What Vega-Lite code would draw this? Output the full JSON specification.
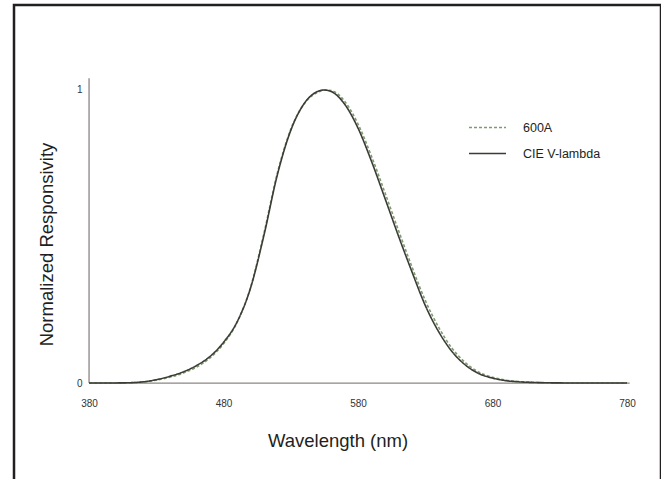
{
  "$schema": "https://vega.github.io/schema/vega-lite/v6.json",
  "width": 647,
  "height": 478,
  "autosize": {"type": "none"},
  "padding": {"left": 14, "top": 5, "right": 0, "bottom": 0},
  "background": "white",
  "datasets": {
    "curves": [
      {"wl": 380, "r": 0.00004, "series": "600A"},
      {"wl": 390, "r": 0.0001, "series": "600A"},
      {"wl": 400, "r": 0.0003, "series": "600A"},
      {"wl": 410, "r": 0.001, "series": "600A"},
      {"wl": 420, "r": 0.0035, "series": "600A"},
      {"wl": 430, "r": 0.010, "series": "600A"},
      {"wl": 440, "r": 0.020, "series": "600A"},
      {"wl": 450, "r": 0.034, "series": "600A"},
      {"wl": 460, "r": 0.055, "series": "600A"},
      {"wl": 470, "r": 0.086, "series": "600A"},
      {"wl": 480, "r": 0.134, "series": "600A"},
      {"wl": 490, "r": 0.206, "series": "600A"},
      {"wl": 500, "r": 0.325, "series": "600A"},
      {"wl": 510, "r": 0.510, "series": "600A"},
      {"wl": 520, "r": 0.716, "series": "600A"},
      {"wl": 530, "r": 0.866, "series": "600A"},
      {"wl": 540, "r": 0.953, "series": "600A"},
      {"wl": 550, "r": 0.992, "series": "600A"},
      {"wl": 555, "r": 0.999, "series": "600A"},
      {"wl": 560, "r": 0.998, "series": "600A"},
      {"wl": 570, "r": 0.962, "series": "600A"},
      {"wl": 580, "r": 0.884, "series": "600A"},
      {"wl": 590, "r": 0.774, "series": "600A"},
      {"wl": 600, "r": 0.650, "series": "600A"},
      {"wl": 610, "r": 0.522, "series": "600A"},
      {"wl": 620, "r": 0.398, "series": "600A"},
      {"wl": 630, "r": 0.282, "series": "600A"},
      {"wl": 640, "r": 0.190, "series": "600A"},
      {"wl": 650, "r": 0.118, "series": "600A"},
      {"wl": 660, "r": 0.069, "series": "600A"},
      {"wl": 670, "r": 0.037, "series": "600A"},
      {"wl": 680, "r": 0.020, "series": "600A"},
      {"wl": 690, "r": 0.010, "series": "600A"},
      {"wl": 700, "r": 0.005, "series": "600A"},
      {"wl": 710, "r": 0.0025, "series": "600A"},
      {"wl": 720, "r": 0.0012, "series": "600A"},
      {"wl": 730, "r": 0.0006, "series": "600A"},
      {"wl": 740, "r": 0.0003, "series": "600A"},
      {"wl": 750, "r": 0.00015, "series": "600A"},
      {"wl": 760, "r": 0.00007, "series": "600A"},
      {"wl": 770, "r": 0.00003, "series": "600A"},
      {"wl": 780, "r": 0.00002, "series": "600A"},
      {"wl": 380, "r": 0.00004, "series": "CIE V-lambda"},
      {"wl": 390, "r": 0.00012, "series": "CIE V-lambda"},
      {"wl": 400, "r": 0.0004, "series": "CIE V-lambda"},
      {"wl": 410, "r": 0.0012, "series": "CIE V-lambda"},
      {"wl": 420, "r": 0.004, "series": "CIE V-lambda"},
      {"wl": 430, "r": 0.0116, "series": "CIE V-lambda"},
      {"wl": 440, "r": 0.023, "series": "CIE V-lambda"},
      {"wl": 450, "r": 0.038, "series": "CIE V-lambda"},
      {"wl": 460, "r": 0.060, "series": "CIE V-lambda"},
      {"wl": 470, "r": 0.091, "series": "CIE V-lambda"},
      {"wl": 480, "r": 0.139, "series": "CIE V-lambda"},
      {"wl": 490, "r": 0.208, "series": "CIE V-lambda"},
      {"wl": 500, "r": 0.323, "series": "CIE V-lambda"},
      {"wl": 510, "r": 0.503, "series": "CIE V-lambda"},
      {"wl": 520, "r": 0.710, "series": "CIE V-lambda"},
      {"wl": 530, "r": 0.862, "series": "CIE V-lambda"},
      {"wl": 540, "r": 0.954, "series": "CIE V-lambda"},
      {"wl": 550, "r": 0.995, "series": "CIE V-lambda"},
      {"wl": 555, "r": 1.000, "series": "CIE V-lambda"},
      {"wl": 560, "r": 0.995, "series": "CIE V-lambda"},
      {"wl": 570, "r": 0.952, "series": "CIE V-lambda"},
      {"wl": 580, "r": 0.870, "series": "CIE V-lambda"},
      {"wl": 590, "r": 0.757, "series": "CIE V-lambda"},
      {"wl": 600, "r": 0.631, "series": "CIE V-lambda"},
      {"wl": 610, "r": 0.503, "series": "CIE V-lambda"},
      {"wl": 620, "r": 0.381, "series": "CIE V-lambda"},
      {"wl": 630, "r": 0.265, "series": "CIE V-lambda"},
      {"wl": 640, "r": 0.175, "series": "CIE V-lambda"},
      {"wl": 650, "r": 0.107, "series": "CIE V-lambda"},
      {"wl": 660, "r": 0.061, "series": "CIE V-lambda"},
      {"wl": 670, "r": 0.032, "series": "CIE V-lambda"},
      {"wl": 680, "r": 0.017, "series": "CIE V-lambda"},
      {"wl": 690, "r": 0.0082, "series": "CIE V-lambda"},
      {"wl": 700, "r": 0.0041, "series": "CIE V-lambda"},
      {"wl": 710, "r": 0.0021, "series": "CIE V-lambda"},
      {"wl": 720, "r": 0.00105, "series": "CIE V-lambda"},
      {"wl": 730, "r": 0.00052, "series": "CIE V-lambda"},
      {"wl": 740, "r": 0.00025, "series": "CIE V-lambda"},
      {"wl": 750, "r": 0.00012, "series": "CIE V-lambda"},
      {"wl": 760, "r": 0.00006, "series": "CIE V-lambda"},
      {"wl": 770, "r": 0.00003, "series": "CIE V-lambda"},
      {"wl": 780, "r": 0.000015, "series": "CIE V-lambda"}
    ]
  },
  "layer": [
    {
      "data": {"values": [{}]},
      "mark": {"type": "rule", "color": "#8c8585", "strokeWidth": 1.3},
      "encoding": {
        "x": {"datum": 380, "type": "quantitative"},
        "x2": {"datum": 782},
        "y": {"datum": 0, "type": "quantitative"}
      }
    },
    {
      "data": {"values": [{}]},
      "mark": {"type": "rule", "color": "#8c8585", "strokeWidth": 1.3},
      "encoding": {
        "x": {"datum": 380, "type": "quantitative"},
        "y": {"datum": 0, "type": "quantitative"},
        "y2": {"datum": 1.04}
      }
    },
    {
      "data": {"name": "curves"},
      "mark": {"type": "line", "interpolate": "monotone", "strokeWidth": 1.6},
      "encoding": {
        "x": {
          "field": "wl",
          "type": "quantitative",
          "scale": {"domain": [324.2, 805.3], "nice": false, "zero": false},
          "axis": {
            "values": [380, 480, 580, 680, 780],
            "format": "d",
            "domain": false,
            "ticks": false,
            "grid": false,
            "offset": -100,
            "labelPadding": 15,
            "labelFontSize": 10,
            "labelColor": "#333333",
            "labelFont": "Liberation Sans",
            "title": "Wavelength (nm)",
            "titleFont": "Liberation Sans",
            "titleFontSize": 18.5,
            "titleFontWeight": "normal",
            "titleColor": "#231f20",
            "titlePadding": 23
          }
        },
        "y": {
          "field": "r",
          "type": "quantitative",
          "scale": {"domain": [-0.341, 1.29], "nice": false, "zero": false},
          "axis": {
            "values": [0, 1],
            "format": "d",
            "domain": false,
            "ticks": false,
            "grid": false,
            "offset": -75,
            "labelPadding": 7,
            "labelFontSize": 10,
            "labelColor": "#333333",
            "labelFont": "Liberation Sans",
            "title": "Normalized Responsivity",
            "titleFont": "Liberation Sans",
            "titleFontSize": 18.5,
            "titleFontWeight": "normal",
            "titleColor": "#231f20",
            "titlePadding": 20
          }
        },
        "color": {
          "field": "series",
          "type": "nominal",
          "scale": {"domain": ["600A", "CIE V-lambda"], "range": ["#7f9a70", "#3a3c35"]},
          "legend": {
            "title": null,
            "orient": "none",
            "legendX": 454,
            "legendY": 103,
            "symbolType": "stroke",
            "symbolSize": 1369,
            "symbolStrokeWidth": 1.6,
            "labelFont": "Liberation Sans",
            "labelFontSize": 12.5,
            "labelColor": "#231f20",
            "labelOffset": 16,
            "rowPadding": -6
          }
        },
        "strokeDash": {
          "field": "series",
          "type": "nominal",
          "scale": {"domain": ["600A", "CIE V-lambda"], "range": [[3, 2], [1, 0]]},
          "legend": null
        }
      }
    }
  ],
  "config": {
    "view": {"stroke": "#231f20", "strokeWidth": 2.5},
    "font": "Liberation Sans"
  }
}
